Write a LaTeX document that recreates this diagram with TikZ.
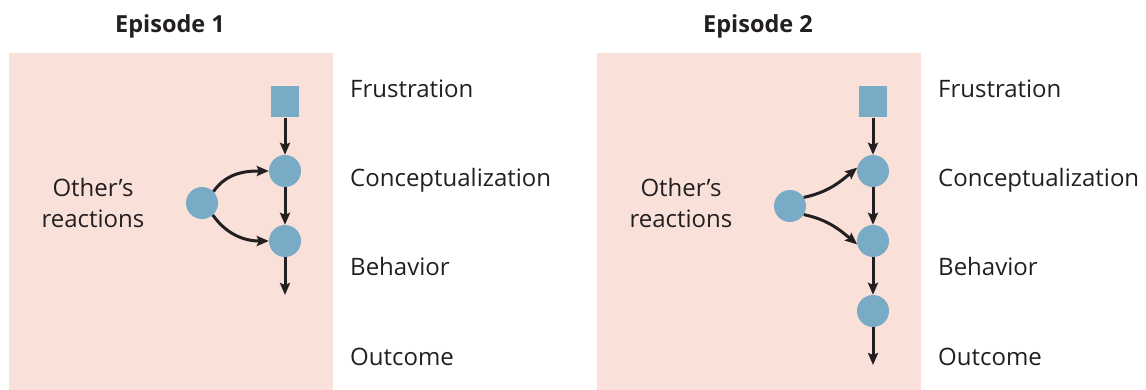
\documentclass[tikz,border=0pt]{standalone}
\usepackage{fontspec}
\setmainfont{Open Sans}
\usetikzlibrary{arrows.meta, positioning}
\definecolor{panelpeach}{HTML}{F9E1D9}
\definecolor{cueblue}{HTML}{7AABC6}
\definecolor{inkdark}{HTML}{231F20}

\begin{document}
\begin{tikzpicture}[x=1pt, y=1pt, font=\fontsize{24}{32}\selectfont, >={Stealth[length=12pt,width=10pt,inset=2pt]},
  cue/.style={circle, fill=cueblue, minimum size=32pt, inner sep=0pt},
  frust/.style={rectangle, fill=cueblue, minimum width=28pt, minimum height=31pt, inner sep=0pt},
  link/.style={->, line width=3pt, draw=inkdark},
  stage/.style={anchor=base west, inner sep=0pt, text=inkdark}]
  \useasboundingbox (0,0) rectangle (1146,-390);
  % panels, titles and stage names
  \foreach \px/\ep in {0/1, 588/2}{
    \fill[panelpeach] (9+\px,-53) rectangle (333+\px,-390);
    \node[font=\fontsize{23.5}{30}\selectfont\bfseries, anchor=base, text=inkdark] (title\ep) at (170+\px,-33) {Episode \ep};
    \node[align=center, text=inkdark] (others\ep) at (93+\px,-203) {Other’s\\reactions};
    \foreach \y/\lab/\k in {98/Frustration/a, 187/Conceptualization/b, 276/Behavior/c, 365/Outcome/d}
      \node[stage] (stage\ep\k) at (350+\px,-\y) {\lab};
  }
  % episode 1
  \node[frust] (frus1) at (285,-102) {};
  \node[cue] (conc1) at (285,-171) {};
  \node[cue] (beh1) at (285,-241) {};
  \node[cue] (react1) at (202,-203) {};
  \coordinate (out1) at (285,-295);
  \draw[link] (frus1) -- (conc1);
  \draw[link] (conc1) -- (beh1);
  \draw[link] (beh1) -- (out1);
  \draw[link] (react1.45) to[out=55, in=180] (conc1.west);
  \draw[link] (react1.-48) to[out=-55, in=180] (beh1.west);
  % episode 2
  \node[frust] (frus2) at (873,-102) {};
  \node[cue] (conc2) at (873,-171) {};
  \node[cue] (beh2) at (873,-241) {};
  \node[cue] (res2) at (873,-311) {};
  \node[cue] (react2) at (790,-206) {};
  \coordinate (out2) at (873,-365);
  \draw[link] (frus2) -- (conc2);
  \draw[link] (conc2) -- (beh2);
  \draw[link] (beh2) -- (res2);
  \draw[link] (res2) -- (out2);
  \draw[link] (react2.32) to[out=12, in=220] (conc2.168);
  \draw[link] (react2.-32) to[out=-12, in=140] (beh2.192);
\end{tikzpicture}
\end{document}
